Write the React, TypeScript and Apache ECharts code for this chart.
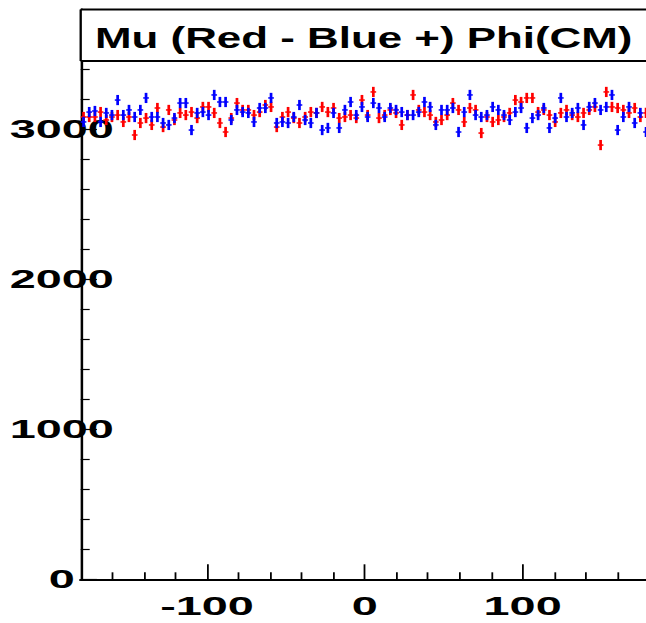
import React, { useEffect, useRef } from "react";
import * as echarts from "echarts";

const TITLE = "Mu (Red - Blue +) Phi(CM)";
const X_MIN = -180;
const X_MAX = 180;
const Y_MIN = 0;
const Y_MAX = 3800;
const BIN_WIDTH = 3.6;
const BIN_ERROR = 34;

const X_MAJOR = [-100, 0, 100];
const X_MINOR = [-160, -140, -120, -80, -60, -40, -20, 20, 40, 60, 80, 120, 140, 160];
const Y_MAJOR = [0, 1000, 2000, 3000];
const Y_MINOR = [200, 400, 600, 800, 1200, 1400, 1600, 1800, 2200, 2400, 2600, 2800, 3200, 3400, 3600];

const RED = [
  3082, 3082, 3082, 3115, 3062, 3082, 3095, 3049, 3082, 2962,
  3042, 3075, 3029, 3142, 3015, 3129, 3062, 3109, 3095, 3115,
  3075, 3149, 3149, 3109, 3042, 2982, 3075, 3175, 3129, 3129,
  3095, 3115, 3162, 3149, 3015, 3082, 3115, 3075, 3042, 3082,
  3115, 3109, 3149, 3115, 3142, 3075, 3082, 3095, 3075, 3195,
  3095, 3249, 3075, 3095, 3129, 3109, 3029, 3095, 3229, 3129,
  3115, 3095, 3049, 3062, 3095, 3175, 3129, 3049, 3142, 3129,
  2975, 3082, 3049, 3062, 3082, 3109, 3195, 3182, 3209, 3209,
  3115, 3129, 3095, 3049, 3109, 3129, 3095, 3082, 3109, 3129,
  3149, 2895, 3249, 3149, 3142, 3129, 3109, 3142, 3082, 3109,
];

const BLUE = [
  3049, 3115, 3122, 3049, 3109, 3095, 3195, 3095, 3129, 3082,
  3129, 3209, 3082, 3082, 3042, 3029, 3075, 3175, 3175, 2995,
  3109, 3115, 3095, 3229, 3182, 3182, 3062, 3129, 3115, 3109,
  3049, 3142, 3142, 3209, 3042, 3049, 3042, 3082, 3162, 3062,
  3042, 3109, 2995, 3009, 3109, 3009, 3129, 3182, 3095, 3149,
  3082, 3175, 3142, 3082, 3142, 3129, 3115, 3095, 3095, 3115,
  3182, 3149, 3029, 3129, 3129, 3142, 2982, 3115, 3229, 3095,
  3082, 3095, 3149, 3129, 3095, 3062, 3115, 3142, 3009, 3075,
  3095, 3142, 3009, 3075, 3209, 3082, 3109, 3142, 3029, 3149,
  3175, 3129, 3149, 3229, 2995, 3082, 3149, 3042, 3109, 2982,
];

const SX = 1.8; // horizontal stretch of the whole picture
const FONT = '"Liberation Sans", Arial, Helvetica, sans-serif';

function makeSeries(values: number[], color: string) {
  return {
    type: "custom",
    xAxisIndex: 0,
    yAxisIndex: 0,
    clip: false,
    data: values.map((v, i) => [X_MIN + BIN_WIDTH * (i + 0.5), v]),
    renderItem: (params: any, api: any) => {
      const x = api.value(0);
      const v = api.value(1);
      const c = api.coord([x, v]);
      const l = api.coord([x - BIN_WIDTH / 2, v])[0];
      const r = api.coord([x + BIN_WIDTH / 2, v])[0];
      const t = api.coord([x, v + BIN_ERROR])[1];
      const b = api.coord([x, v - BIN_ERROR])[1];
      return {
        type: "group",
        children: [
          {
            type: "line",
            shape: { x1: l, y1: c[1], x2: r, y2: c[1] },
            style: { stroke: color, lineWidth: 1.5 },
          },
          {
            type: "line",
            shape: { x1: c[0], y1: t, x2: c[0], y2: b },
            style: { stroke: color, lineWidth: 1.5 },
          },
        ],
      };
    },
  };
}

export default function App() {
  const ref = useRef<HTMLDivElement>(null);
  useEffect(() => {
    const chart = echarts.init(ref.current!, null, { renderer: "svg" });
    const gridLeft = 80.7 / SX;
    const gridWidth = (648.9 - 80.7) / SX;
    const gridTop = 9.3;
    const gridHeight = 570;
    const labelStyle = {
      fontFamily: FONT,
      fontWeight: "bold" as const,
      fontSize: 26,
      color: "#000",
      formatter: (v: number) => String(v),
    };
    const option: any = {
      animation: false,
      backgroundColor: "#fff",
      grid: { left: gridLeft, top: gridTop, width: gridWidth, height: gridHeight, containLabel: false },
      xAxis: [
        {
          type: "value",
          min: X_MIN,
          max: X_MAX,
          position: "bottom",
          axisLine: { show: true, onZero: false, lineStyle: { color: "#000", width: 2 } },
          axisTick: { show: true, inside: true, length: 15, customValues: X_MAJOR, lineStyle: { color: "#000", width: 1 } },
          axisLabel: { show: true, customValues: X_MAJOR, margin: 14, ...labelStyle },
          splitLine: { show: false },
        },
        {
          type: "value",
          min: X_MIN,
          max: X_MAX,
          position: "bottom",
          axisLine: { show: false, onZero: false },
          axisTick: { show: true, inside: true, length: 7, customValues: X_MINOR, lineStyle: { color: "#000", width: 1 } },
          axisLabel: { show: false },
          splitLine: { show: false },
        },
      ],
      yAxis: [
        {
          type: "value",
          min: Y_MIN,
          max: Y_MAX,
          position: "left",
          axisLine: { show: true, onZero: false, lineStyle: { color: "#000", width: 1.4 } },
          axisTick: { show: true, inside: true, length: 9, customValues: Y_MAJOR, lineStyle: { color: "#000", width: 1.2 } },
          axisLabel: { show: true, customValues: Y_MAJOR, margin: 10.5, align: "center", ...labelStyle },
          splitLine: { show: false },
        },
        {
          type: "value",
          min: Y_MIN,
          max: Y_MAX,
          position: "left",
          axisLine: { show: false, onZero: false },
          axisTick: { show: true, inside: true, length: 5, customValues: Y_MINOR, lineStyle: { color: "#000", width: 1.2 } },
          axisLabel: { show: false },
          splitLine: { show: false },
        },
      ],
      graphic: [
        {
          type: "rect",
          z: 100,
          shape: { x: gridLeft, y: 9.5, width: 400, height: 51.5 },
          style: { fill: "#fff", stroke: "none" },
        },
        {
          type: "line",
          z: 101,
          shape: { x1: gridLeft, y1: 9.5, x2: gridLeft + 400, y2: 9.5 },
          style: { stroke: "#000", lineWidth: 2 },
        },
        {
          type: "line",
          z: 101,
          shape: { x1: gridLeft, y1: 61, x2: gridLeft + 400, y2: 61 },
          style: { stroke: "#000", lineWidth: 2 },
        },
        {
          type: "line",
          z: 101,
          shape: { x1: gridLeft, y1: 9.5, x2: gridLeft, y2: 61 },
          style: { stroke: "#000", lineWidth: 1.3 },
        },
        {
          type: "text",
          z: 102,
          x: 95 / SX,
          y: 37.5,
          scaleX: 0.813,
          style: {
            text: TITLE,
            font: `bold 30px ${FONT}`,
            fill: "#000",
            align: "left",
            verticalAlign: "middle",
          },
        },
      ],
      series: [makeSeries(RED, "#ff0000"), makeSeries(BLUE, "#0000ff")],
    };
    chart.setOption(option);
    return () => chart.dispose();
  }, []);
  return (
    <div
      style={{
        position: "fixed",
        left: 0,
        top: 0,
        width: 646,
        height: 623,
        overflow: "hidden",
        background: "#fff",
      }}
    >
      <div
        ref={ref}
        style={{ width: 362, height: 623, transform: `scaleX(${SX})`, transformOrigin: "0 0" }}
      />
    </div>
  );
}
